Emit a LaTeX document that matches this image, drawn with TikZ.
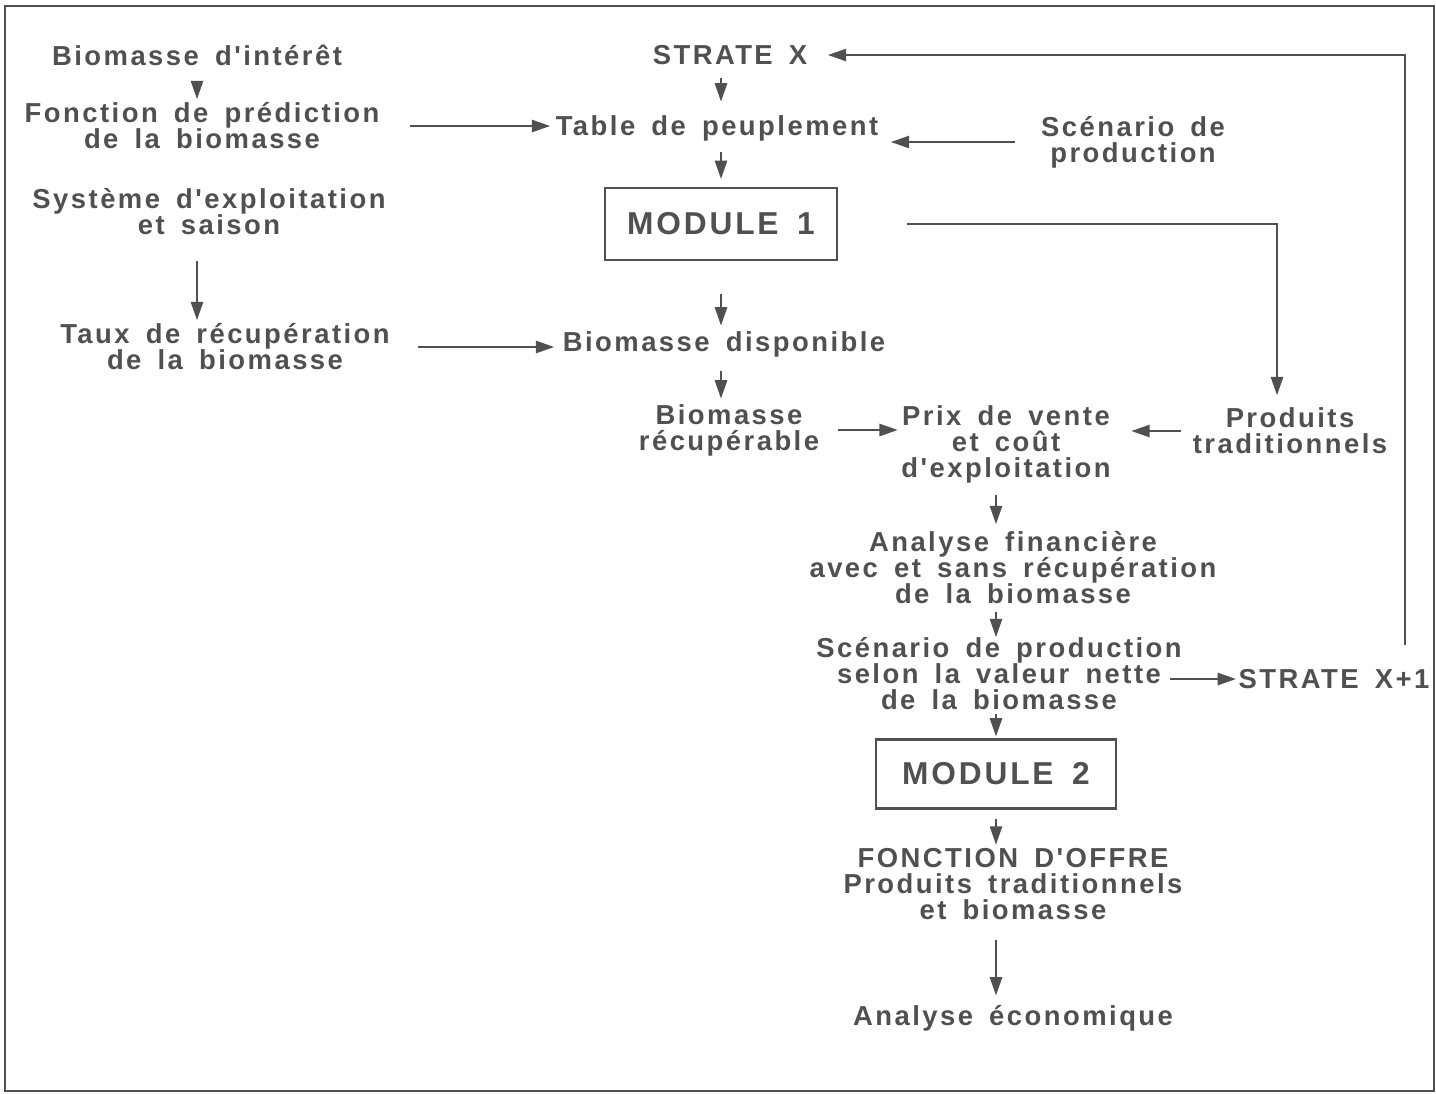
\documentclass[tikz,border=0pt]{standalone}
\usepackage{fontspec}
\setmainfont{Liberation Sans}[LetterSpace=9, WordSpace=1.6, Ligatures=TeXOff]
\usetikzlibrary{arrows.meta, calc}
\definecolor{ink}{HTML}{505050}

\begin{document}
\begin{tikzpicture}[
  x=0.01cm, y=-0.01cm,
  font=\fontsize{7.8}{7.4}\selectfont\bfseries,
  txt/.style={align=center, inner sep=0pt, text=ink},
  module/.style={draw=ink, line width=0.6pt, text=ink, inner sep=0pt, font=\fontsize{9}{10}\selectfont\bfseries},
  msg/.style={-{Triangle[length=5.2pt, width=3.5pt]}, draw=ink, line width=0.5pt},
]
\useasboundingbox (0,0) rectangle (1436,1093);
\draw[ink, line width=0.6pt] (5,6) rectangle (1434,1091);

\node[txt] (bio) at (197,55) {Biomasse d'intérêt};
\node[txt] (fonc) at (202,126) {Fonction de prédiction\\de la biomasse};
\node[txt] (syst) at (209,212) {Système d'exploitation\\et saison};
\node[txt] (taux) at (225,347) {Taux de récupération\\de la biomasse};

\node[txt] (stratex) at (730,55) {STRATE X};
\node[txt] (table) at (717,128) {Table de peuplement};
\node[txt] (scenprod) at (1133,142) {Scénario de\\production};
\node[module, minimum width=2.31cm, minimum height=0.72cm] (mod1) at (721,224) {MODULE 1};
\node[txt] (dispo) at (724,344) {Biomasse disponible};
\node[txt] (recup) at (729,430) {Biomasse\\récupérable};
\node[txt] (prix) at (1006,444) {Prix de vente\\et coût\\d'exploitation};
\node[txt] (prodtrad) at (1290,431) {Produits\\traditionnels};
\node[txt] (anafin) at (1013,568) {Analyse financière\\avec et sans récupération\\de la biomasse};
\node[txt] (scen) at (999,674) {Scénario de production\\selon la valeur nette\\de la biomasse};
\node[txt] (stratex1) at (1334,679) {STRATE X+1};
\node[module, minimum width=2.39cm, minimum height=0.69cm] (mod2) at (996,774) {MODULE 2};
\node[txt] (offre) at (1013,884) {FONCTION D'OFFRE\\Produits traditionnels\\et biomasse};
\node[txt] (eco) at (1013,1018) {Analyse économique};

\coordinate (back) at (1405,645);

\draw[msg, shorten <=1.8mm, shorten >=0.3mm] (bio.south) -- (bio.south |- fonc.north);
\draw[msg, shorten <=2.5mm, shorten >=0.3mm] (syst.south -| bio.south) -- (bio.south |- taux.north);
\draw[msg, shorten <=3.0mm, shorten >=0.5mm] (fonc.east) -- (fonc.east -| table.west);
\draw[msg, shorten <=2.8mm, shorten >=0.8mm] (taux.east) -- (taux.east -| dispo.west);

\draw[msg, shorten <=1.3mm, shorten >=1.3mm] (mod1.north |- stratex.south) -- (mod1.north |- table.north);
\draw[msg, shorten <=1.0mm, shorten >=0.8mm] (mod1.north |- table.south) -- (mod1.north);
\draw[msg, shorten <=2.5mm, shorten >=1.2mm] (scenprod.west) -- (scenprod.west -| table.east);
\draw[msg, shorten <=3.3mm, shorten >=0.5mm] (mod1.south) -- (mod1.south |- dispo.north);
\draw[msg, shorten <=1.3mm, shorten >=0.5mm] (mod1.south |- dispo.south) -- (mod1.south |- recup.north);
\draw[msg, shorten <=1.8mm, shorten >=0.3mm] (recup.east) -- (recup.east -| prix.west);
\draw[msg, shorten <=1.1mm, shorten >=2.0mm] (prodtrad.west) -- (prodtrad.west -| prix.east);
\draw[msg, shorten <=6.9mm, shorten >=1.2mm] (mod1.east) -| ([xshift=-1.3mm]prodtrad.north);

\draw[msg, shorten <=1.1mm, shorten >=0.7mm] (mod2.north |- prix.south) -- (mod2.north |- anafin.north);
\draw[msg, shorten <=0.7mm] (mod2.north |- anafin.south) -- (mod2.north |- scen.north);
\draw[msg, shorten <=0.3mm, shorten >=0.2mm] (mod2.north |- scen.south) -- (mod2.north);
\draw[msg, shorten <=-1.2mm, shorten >=0.2mm] (scen.east |- stratex1.west) -- (stratex1.west);
\draw[msg, shorten <=0.9mm, shorten >=0.3mm] (mod2.south) -- (mod2.south |- offre.north);
\draw[msg, shorten <=2.0mm, shorten >=0.9mm] (mod2.south |- offre.south) -- (mod2.south |- eco.north);

\draw[msg, shorten >=2.0mm] (back) |- (stratex.east);
\end{tikzpicture}
\end{document}
